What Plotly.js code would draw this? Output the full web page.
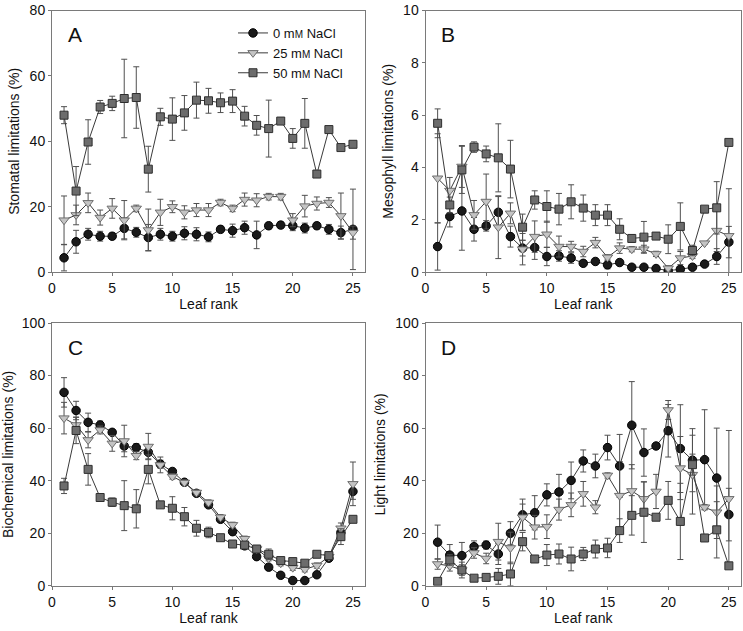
<!DOCTYPE html>
<html>
<head>
<meta charset="utf-8">
<script src="https://cdn.plot.ly/plotly-3.0.1.min.js"></script>
<style>html,body{margin:0;padding:0;background:#fff;}#chart{width:743px;height:631px;}</style>
</head>
<body>
<div id="chart"></div>
<script>
// ---------- data ----------
const leafRank = [1,2,3,4,5,6,7,8,9,10,11,12,13,14,15,16,17,18,19,20,21,22,23,24,25];
const seriesNames = ["0 m<span style='font-size:10px'>M</span> NaCl", "25 m<span style='font-size:10px'>M</span> NaCl", "50 m<span style='font-size:10px'>M</span> NaCl"];
const panelLetters = ["A", "B", "C", "D"];
const yTitles = ["Stomatal limitations (%)", "Mesophyll limitations (%)", "Biochemical limitations (%)", "Light limitations (%)"];
const xTitle = "Leaf rank";

// A: stomatal
const a0   = [4.4,9.3,11.6,11.0,11.0,13.4,12.2,10.6,11.6,11.0,11.9,11.6,10.8,13.1,12.7,13.6,11.4,14.2,14.4,14.2,13.5,14.2,13.1,12.1,13.1];
const a0e  = [4,3.5,1.8,1.5,1,3.2,1.5,4,1.8,1.5,2,2,1.5,1,2,2,4.2,1,1,1.5,1.5,1,1.5,2,12.3];
const a25  = [15.9,17.5,21.2,16.7,19.5,15.9,19.5,12.9,18.3,20.0,18.3,19.0,19.0,21.3,19.5,22.2,22.0,23.1,23.1,15.9,20.2,21.0,21.3,17.2,12.1];
const a25e = [7.4,3,3,2.3,3,6,1,6.4,4,1.8,2,2,2,1,1,2,2,1,1,2,3.3,2,1.5,7,2];
const a50  = [48.0,24.8,39.8,50.5,51.6,53.1,53.4,31.5,47.5,46.8,48.7,52.6,52.4,51.8,52.3,47.7,44.9,43.9,46.2,40.9,45.5,30.0,43.6,38.1,39.1];
const a50e = [2.6,7.5,6.8,2,2.2,12,9.4,7,2.6,6.5,5.3,5.5,3.8,3,3.5,3,3,8.7,1,3,7.6,0.5,0.5,0.5,0.5];

// B: mesophyll
const b0   = [0.98,2.13,2.34,1.64,1.77,2.29,1.36,0.92,0.94,0.60,0.62,0.54,0.34,0.41,0.28,0.37,0.19,0.19,0.14,0.06,0.11,0.19,0.31,0.60,1.15];
const b0e  = [0.9,0.4,1.5,0.45,0.2,0.6,0.4,0.3,0.45,0.35,0.2,0.2,0.1,0.1,0.15,0.1,0.05,0.05,0.05,0.05,0.05,0.05,0.1,0.3,0.6];
const b25  = [3.59,3.12,4.04,2.19,2.70,1.72,2.25,0.88,1.36,1.45,0.98,0.98,0.79,1.13,0.57,0.92,0.88,0.88,0.70,0.15,0.54,0.62,1.11,1.59,1.39];
const b25e = [1.7,0.5,0.8,0.55,1.05,1.2,0.4,0.6,0.6,0.5,0.4,0.2,0.2,0.2,0.1,0.2,0.1,0.15,0.1,0.1,0.25,0.1,0.05,0.8,1.8];
const b50  = [5.69,2.57,3.91,4.78,4.52,4.37,3.94,1.72,2.76,2.51,2.41,2.69,2.45,2.18,2.18,1.64,1.29,1.34,1.38,1.26,1.75,0.83,2.41,2.46,4.96];
const b50e = [0.55,0.3,0.9,0.2,0.3,1.3,1.1,0.5,0.35,0.6,0.6,0.65,0.5,0.4,0.4,0.4,0.15,0.6,0.1,0.55,0.9,0.2,0.05,1.0,0.05];

// C: biochemical
const c0   = [73.6,66.7,62.2,61.2,58.4,53.2,52.6,50.8,46.3,43.5,39.4,35.2,30.8,25.3,20.6,15.2,11.1,7.1,4.0,2.0,2.0,4.2,10.5,20.3,35.9];
const c0e  = [5.6,3.5,3.5,1.5,1,2.2,1.5,2.5,1.5,1,1,0.7,0.7,1,1,1,1,1,0.5,0.5,0.5,0.5,1,1.5,3];
const c25  = [63.8,61.2,55.5,59.3,54.2,55.1,49.5,53.0,46.0,41.6,39.3,35.5,31.7,26.1,23.2,17.9,14.0,10.5,8.6,6.9,6.3,7.7,11.1,21.9,38.8];
const c25e = [6,3,3,1.5,3,6,1.5,5,3,1,1,1,1,1,1,1,1,1,1,1,1,1,1,2,8.3];
const c50  = [38.0,59.1,44.3,33.6,31.8,30.5,29.3,44.3,30.8,29.5,26.3,21.9,20.3,18.3,15.9,15.5,14.0,12.0,9.6,9.2,8.6,12.0,11.5,18.7,25.3];
const c50e = [2.9,5,6,1,1.6,9.5,7.3,5.5,1,4.4,3.5,3,2,1,1,1,1,2,1,1,1,1,1,3,1];

// D: light
const d0   = [16.6,11.7,11.5,14.9,15.5,12.1,20.0,27.0,27.8,34.6,35.7,40.1,47.5,45.6,52.6,45.6,61.1,50.7,53.2,59.0,52.2,47.8,48.0,41.0,27.1];
const d0e  = [6.5,4,5,2.2,1.5,4,4.4,6,6.5,4.2,6.7,7,4.2,4.5,4.7,12,16.6,9,1,10,16.7,12,19,19,10];
const d25  = [8.3,7.6,6.0,12.5,10.4,16.8,14.4,26.1,22.3,22.5,29.0,30.8,35.0,29.9,42.0,34.3,36.1,33.1,35.9,66.9,44.8,42.3,29.9,28.0,33.1];
const d25e = [2,2,2,2,2,7,6,5,4.5,4.5,4,4.5,4.7,2.5,1,13,10,6.5,6.5,3.6,12,15,1,10,26];
const d50  = [1.7,9.8,6.0,2.9,3.2,3.6,4.5,16.8,10.2,11.7,12.1,10.2,12.1,14.0,14.4,21.0,26.8,28.0,26.1,32.5,24.5,46.1,18.2,21.3,7.6];
const d50e = [1,2,3,0.5,0.5,3,4.5,3.5,1,4,3.8,4.5,2.5,3.4,3.7,4.5,7.5,11.5,1,7.2,14.5,4,1,10.7,1];

const yTickVals = [[0,20,40,60,80],[0,2,4,6,8,10],[0,20,40,60,80,100],[0,20,40,60,80,100]];
const yRanges = [[0,80],[0,10],[0,100],[0,100]];
const xTickVals = [0,5,10,15,20,25];

// ---------- styling ----------
const W = 743, H = 631;
const FONT = '"Liberation Sans", Arial, Helvetica, sans-serif';
const styles = [
  {symbol:'circle', color:'#1a1a1a', line:'#000000', size:8.5},
  {symbol:'triangle-down', color:'#c4c4c4', line:'#6e6e6e', size:9},
  {symbol:'square', color:'#6c6c6c', line:'#2e2e2e', size:8}
];
const panelData = [
  [[a0,a0e],[a25,a25e],[a50,a50e]],
  [[b0,b0e],[b25,b25e],[b50,b50e]],
  [[c0,c0e],[c25,c25e],[c50,c50e]],
  [[d0,d0e],[d25,d25e],[d50,d50e]]
];
// pixel boxes: [left, right, top, bottom]
const boxes = [
  [52, 365, 10.5, 272.2],
  [425.5, 741, 10.5, 272.2],
  [52, 365, 323, 585.8],
  [425.5, 741, 323, 585.8]
];

const traces = [];
panelData.forEach((pd, p) => {
  const ax = p === 0 ? '' : String(p + 1);
  pd.forEach((s, k) => {
    traces.push({
      type: 'scatter', mode: 'lines+markers',
      x: leafRank, y: s[0],
      xaxis: 'x' + ax, yaxis: 'y' + ax,
      name: seriesNames[k],
      showlegend: p === 0,
      line: {color: '#3a3a3a', width: 1},
      marker: {symbol: styles[k].symbol, size: styles[k].size, color: styles[k].color,
               line: {color: styles[k].line, width: 1}},
      error_y: {type: 'data', array: s[1], visible: true, color: '#505050', thickness: 1, width: 3},
      cliponaxis: true
    });
  });
});

const layout = {
  width: W, height: H,
  margin: {l: 0, r: 0, t: 0, b: 0},
  paper_bgcolor: '#fff', plot_bgcolor: '#fff',
  font: {family: FONT, size: 14, color: '#111'},
  showlegend: true,
  legend: {x: 233/W, y: 1 - 18/H, xanchor: 'left', yanchor: 'top',
           bgcolor: 'rgba(0,0,0,0)', font: {size: 13, family: FONT}, itemwidth: 30,
           tracegroupgap: 0},
  annotations: [],
};
boxes.forEach((b, p) => {
  const ax = p === 0 ? '' : String(p + 1);
  layout['xaxis' + ax] = {
    domain: [b[0]/W, b[1]/W], range: [0, 26], anchor: 'y' + ax,
    tickvals: xTickVals, ticks: 'outside', ticklen: 3, tickcolor: '#777',
    showline: true, mirror: true, linecolor: '#7a7a7a', linewidth: 1,
    showgrid: false, zeroline: false,
    tickfont: {size: 14}, title: {text: xTitle, font: {size: 14}, standoff: 4},
    automargin: false
  };
  layout['yaxis' + ax] = {
    domain: [1 - b[3]/H, 1 - b[2]/H], range: yRanges[p], anchor: 'x' + ax,
    tickvals: yTickVals[p], ticks: 'outside', ticklen: 3, tickcolor: '#777',
    showline: true, mirror: true, linecolor: '#7a7a7a', linewidth: 1,
    showgrid: false, zeroline: false,
    tickfont: {size: 14}, title: {text: yTitles[p], font: {size: 14}, standoff: 6},
    automargin: false
  };
  layout.annotations.push({
    text: panelLetters[p], xref: 'paper', yref: 'paper',
    x: (b[0] + 23)/W, y: 1 - (b[2] + 24)/H, xanchor: 'center', yanchor: 'middle',
    showarrow: false, font: {size: 21, family: FONT, color: '#111'}
  });
});

Plotly.newPlot('chart', traces, layout, {displayModeBar: false, staticPlot: true});
</script>
</body>
</html>
